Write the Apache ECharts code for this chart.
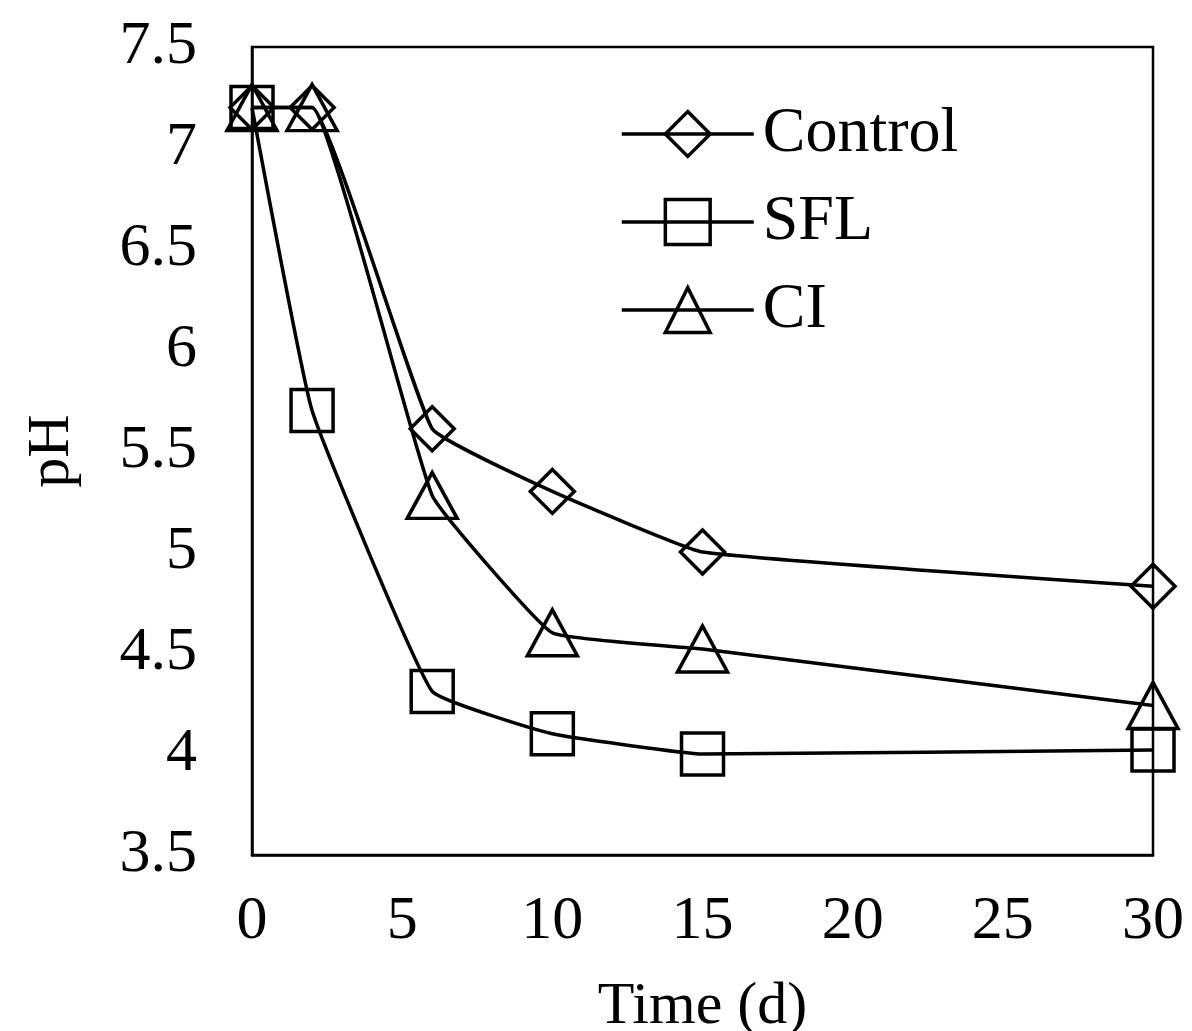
<!DOCTYPE html>
<html lang="en">
<head>
    <meta charset="UTF-8">
    <title>pH over time</title>
    <script src="https://cdn.jsdelivr.net/npm/echarts@6/dist/echarts.min.js"></script>
</head>
<style>
    *{
        margin: 0;
        padding: 0;
    }
    html , body{
        width: 100%;
        height: 100%;
        overflow: hidden;
        background: #fff;
    }
    .container{
        width: 1192px;
        height: 1031px;
    }
</style>
<body>
<div class="container"></div>
<script>
    // days of sampling
    let days = [0, 2, 6, 10, 15, 30];
    let seriesNames = ['Control', 'SFL', 'CI'];
    let control = [7.2, 7.2, 5.61, 5.3, 5.0, 4.83];
    let sfl = [7.2, 5.7, 4.31, 4.1, 4.0, 4.02];
    let ci = [7.2, 7.2, 5.28, 4.6, 4.52, 4.24];
    let symbols = ['diamond', 'rect', 'triangle'];
    let symbolSizes = [[44, 44], [42, 42], [50, 46]];

    let font = 'Liberation Serif';
    let container = document.querySelector('.container');
    let mycharts = echarts.init(container);

    let series = [control, sfl, ci].map((vals, i) => ({
        name: seriesNames[i],
        type: 'line',
        data: days.map((d, k) => [d, vals[k]]),
        smooth: 0.1,
        symbol: symbols[i],
        symbolSize: symbolSizes[i],
        showAllSymbol: true,
        lineStyle: {color: '#000', width: 3.5},
        itemStyle: {color: 'rgba(0,0,0,0)', borderColor: '#000', borderWidth: 3.5},
        emphasis: {disabled: true}
    }));

    let option = {
        backgroundColor: '#fff',
        animation: false,
        grid: {
            left: 252,
            right: 39,
            top: 47,
            bottom: 176,
            show: true,
            borderColor: '#000',
            borderWidth: 2.5,
            containLabel: false,
            outerBoundsMode: 'none'
        },
        legend: {
            orient: 'vertical',
            left: 615,
            top: 97,
            itemWidth: 132,
            itemHeight: 56,
            itemGap: 24,
            data: seriesNames,
            lineStyle: {width: 3.5, color: '#000'},
            itemStyle: {borderWidth: 3.5, borderColor: '#000', color: 'rgba(0,0,0,0)'},
            textStyle: {
                fontFamily: font,
                fontSize: 64,
                color: '#000',
                padding: [0, 0, 0, 4]
            }
        },
        xAxis: {
            type: 'value',
            min: 0,
            max: 30,
            interval: 5,
            name: 'Time (d)',
            nameLocation: 'middle',
            nameGap: 122,
            nameTextStyle: {fontFamily: font, fontSize: 60, color: '#000'},
            axisLine: {show: true, lineStyle: {color: '#000', width: 2.5}},
            axisTick: {show: false},
            splitLine: {show: false},
            axisLabel: {fontFamily: font, fontSize: 62, color: '#000', margin: 36}
        },
        yAxis: {
            type: 'value',
            min: 3.5,
            max: 7.5,
            interval: 0.5,
            name: 'pH',
            nameLocation: 'middle',
            nameRotate: 90,
            nameGap: 170,
            nameTextStyle: {fontFamily: font, fontSize: 60, color: '#000'},
            axisLine: {show: true, lineStyle: {color: '#000', width: 2.5}},
            axisTick: {show: false},
            splitLine: {show: false},
            axisLabel: {fontFamily: font, fontSize: 62, color: '#000', margin: 55}
        },
        series
    };
    mycharts.setOption(option);
</script>

</body>
</html>
